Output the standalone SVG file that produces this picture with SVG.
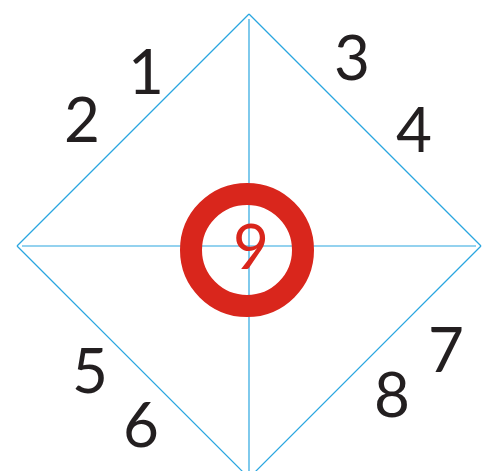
<svg xmlns="http://www.w3.org/2000/svg" width="490" height="471" viewBox="0 0 490 471">
<style>
.ln{stroke:#2aa6e0;stroke-width:1.2;fill:none}
.num{font-family:Lato,"Liberation Sans",sans-serif;font-weight:400;font-size:62px;fill:#231f20;text-anchor:middle}
</style>
<rect width="490" height="471" fill="#ffffff"/>
<g id="connectors">
<line class="ln" x1="249" y1="14" x2="481" y2="246"/>
<line class="ln" x1="481" y1="246" x2="249" y2="478"/>
<line class="ln" x1="249" y1="478" x2="17" y2="246"/>
<line class="ln" x1="17" y1="246" x2="249" y2="14"/>
<line class="ln" x1="22" y1="246" x2="476" y2="246"/>
<line class="ln" x1="249" y1="19" x2="249" y2="471"/>
</g>
<g id="ring">
<circle cx="247" cy="250" r="56" fill="none" stroke="#d9261c" stroke-width="22"/>
<text class="num" x="251" y="269" style="fill:#d9261c" font-size="64">9</text>
</g>
<g id="n1"><text class="num" x="146" y="94">1</text></g>
<g id="n2"><text class="num" x="82" y="142">2</text></g>
<g id="n3"><text class="num" x="352" y="80">3</text></g>
<g id="n4"><text class="num" x="414" y="152">4</text></g>
<g id="n5"><text class="num" x="90" y="393">5</text></g>
<g id="n6"><text class="num" x="141" y="447">6</text></g>
<g id="n7"><text class="num" x="446" y="372">7</text></g>
<g id="n8"><text class="num" x="392" y="417">8</text></g>
</svg>
